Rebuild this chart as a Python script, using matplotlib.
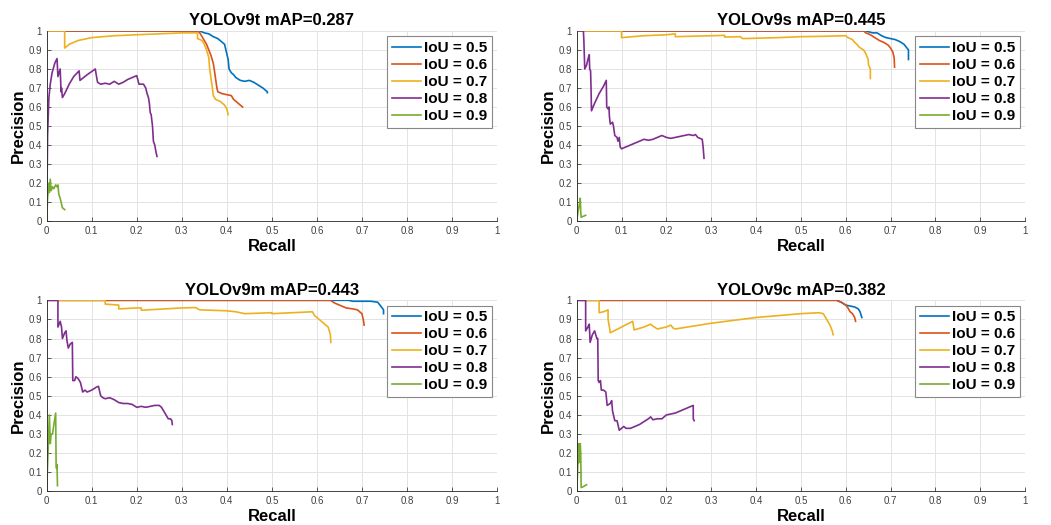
import numpy as np
import matplotlib.pyplot as plt

plt.rcParams['font.family'] = ['Liberation Sans', 'DejaVu Sans']

titles = ['YOLOv9t mAP=0.287', 'YOLOv9s mAP=0.445', 'YOLOv9m mAP=0.443', 'YOLOv9c mAP=0.382']
iou_labels = ['IoU = 0.5', 'IoU = 0.6', 'IoU = 0.7', 'IoU = 0.8', 'IoU = 0.9']
colors = ['#0072BD', '#D95319', '#EDB120', '#7E2F8E', '#77AC30']

# (recall, precision) points per model, one list per IoU threshold
v9t_05 = [(0, 1), (0.34, 1), (0.345, 0.995), (0.35, 0.99), (0.36, 0.985), (0.37, 0.97), (0.38, 0.96),
          (0.385, 0.95), (0.395, 0.93), (0.398, 0.9), (0.40, 0.88), (0.403, 0.85), (0.405, 0.8),
          (0.41, 0.78), (0.415, 0.77), (0.42, 0.755), (0.43, 0.74), (0.44, 0.735), (0.45, 0.74),
          (0.46, 0.73), (0.47, 0.715), (0.48, 0.7), (0.485, 0.69), (0.49, 0.68), (0.49, 0.675)]
v9t_06 = [(0, 1), (0.335, 1), (0.34, 0.99), (0.345, 0.97), (0.35, 0.95), (0.355, 0.93), (0.36, 0.9),
          (0.365, 0.87), (0.37, 0.83), (0.372, 0.8), (0.375, 0.75), (0.378, 0.7), (0.38, 0.68),
          (0.39, 0.67), (0.40, 0.665), (0.41, 0.66), (0.415, 0.64), (0.425, 0.62), (0.435, 0.6)]
v9t_07 = [(0, 1), (0.04, 1), (0.04, 0.91), (0.05, 0.93), (0.07, 0.95), (0.1, 0.965), (0.15, 0.975),
          (0.2, 0.98), (0.25, 0.985), (0.3, 0.99), (0.335, 0.99), (0.335, 0.96), (0.345, 0.95),
          (0.35, 0.93), (0.355, 0.9), (0.36, 0.86), (0.362, 0.8), (0.365, 0.75), (0.368, 0.7),
          (0.37, 0.66), (0.375, 0.64), (0.385, 0.63), (0.395, 0.61), (0.40, 0.59), (0.403, 0.56)]
v9t_08 = [(0, 0), (0.002, 0.45), (0.005, 0.65), (0.008, 0.72), (0.012, 0.78), (0.018, 0.83),
          (0.023, 0.855), (0.025, 0.76), (0.03, 0.8), (0.032, 0.68), (0.033, 0.7), (0.035, 0.65),
          (0.04, 0.67), (0.05, 0.72), (0.06, 0.76), (0.072, 0.79), (0.074, 0.74), (0.09, 0.77),
          (0.108, 0.8), (0.11, 0.77), (0.113, 0.73), (0.12, 0.72), (0.13, 0.725), (0.14, 0.72),
          (0.15, 0.735), (0.16, 0.72), (0.17, 0.73), (0.18, 0.745), (0.2, 0.765), (0.205, 0.72),
          (0.215, 0.72), (0.22, 0.7), (0.223, 0.67), (0.226, 0.65), (0.228, 0.62), (0.23, 0.57),
          (0.232, 0.56), (0.235, 0.5), (0.237, 0.42), (0.24, 0.4), (0.243, 0.36), (0.245, 0.34)]
v9t_09 = [(0, 1), (0, 0), (0.002, 0.12), (0.005, 0.2), (0.006, 0.15), (0.008, 0.22), (0.01, 0.16),
          (0.013, 0.18), (0.016, 0.17), (0.02, 0.19), (0.023, 0.18), (0.025, 0.19), (0.027, 0.14),
          (0.03, 0.12), (0.032, 0.1), (0.035, 0.07), (0.04, 0.06)]

v9s_05 = [(0, 1), (0.645, 1), (0.66, 0.99), (0.67, 0.99), (0.68, 0.975), (0.69, 0.965), (0.70, 0.96),
          (0.71, 0.955), (0.72, 0.945), (0.73, 0.93), (0.735, 0.915), (0.74, 0.9), (0.74, 0.85)]
v9s_06 = [(0, 1), (0.64, 1), (0.645, 0.99), (0.655, 0.98), (0.665, 0.965), (0.675, 0.95),
          (0.685, 0.94), (0.695, 0.925), (0.70, 0.91), (0.705, 0.89), (0.708, 0.86), (0.709, 0.81)]
v9s_07 = [(0, 1), (0.1, 1), (0.1, 0.965), (0.15, 0.975), (0.2, 0.98), (0.22, 0.985), (0.22, 0.97),
          (0.3, 0.975), (0.33, 0.977), (0.33, 0.968), (0.365, 0.97), (0.37, 0.96), (0.45, 0.965),
          (0.5, 0.97), (0.55, 0.972), (0.6, 0.975), (0.605, 0.965), (0.615, 0.955), (0.62, 0.94),
          (0.625, 0.93), (0.63, 0.915), (0.64, 0.9), (0.645, 0.88), (0.65, 0.85), (0.651, 0.82),
          (0.655, 0.8), (0.655, 0.75)]
v9s_08 = [(0, 1), (0.015, 1), (0.016, 0.95), (0.018, 0.8), (0.022, 0.82), (0.025, 0.85),
          (0.028, 0.875), (0.029, 0.8), (0.031, 0.79), (0.032, 0.7), (0.033, 0.58), (0.04, 0.62),
          (0.05, 0.67), (0.06, 0.71), (0.066, 0.74), (0.067, 0.6), (0.07, 0.59), (0.072, 0.6),
          (0.073, 0.55), (0.075, 0.51), (0.08, 0.52), (0.082, 0.5), (0.085, 0.45), (0.09, 0.44),
          (0.092, 0.42), (0.095, 0.44), (0.097, 0.39), (0.1, 0.38), (0.11, 0.39), (0.12, 0.4),
          (0.13, 0.41), (0.14, 0.42), (0.15, 0.43), (0.16, 0.425), (0.17, 0.43), (0.18, 0.44),
          (0.19, 0.45), (0.2, 0.44), (0.21, 0.435), (0.22, 0.44), (0.23, 0.445), (0.24, 0.45),
          (0.25, 0.455), (0.26, 0.45), (0.265, 0.455), (0.27, 0.44), (0.28, 0.43), (0.282, 0.39),
          (0.284, 0.33)]
v9s_09 = [(0, 1), (0, 0), (0.003, 0.05), (0.007, 0.1), (0.008, 0.12), (0.009, 0.05), (0.01, 0.02),
          (0.015, 0.025), (0.02, 0.03)]

v9m_05 = [(0, 1), (0.67, 1), (0.68, 0.995), (0.72, 0.995), (0.735, 0.99), (0.74, 0.975),
          (0.745, 0.96), (0.748, 0.95), (0.748, 0.93)]
v9m_06 = [(0, 1), (0.63, 1), (0.64, 0.985), (0.655, 0.97), (0.665, 0.96), (0.68, 0.955),
          (0.69, 0.95), (0.70, 0.93), (0.703, 0.9), (0.705, 0.87)]
v9m_07 = [(0, 1), (0.13, 1), (0.13, 0.98), (0.16, 0.975), (0.16, 0.955), (0.2, 0.96), (0.21, 0.96),
          (0.21, 0.948), (0.3, 0.96), (0.33, 0.962), (0.34, 0.95), (0.4, 0.945), (0.42, 0.94),
          (0.44, 0.93), (0.5, 0.935), (0.5, 0.93), (0.59, 0.94), (0.595, 0.92), (0.605, 0.9),
          (0.615, 0.88), (0.625, 0.86), (0.63, 0.82), (0.631, 0.78)]
v9m_08 = [(0, 1), (0.025, 1), (0.025, 0.86), (0.03, 0.89), (0.033, 0.86), (0.035, 0.8), (0.04, 0.83),
          (0.043, 0.84), (0.045, 0.79), (0.048, 0.75), (0.052, 0.77), (0.057, 0.78), (0.058, 0.58),
          (0.062, 0.58), (0.065, 0.6), (0.07, 0.59), (0.075, 0.57), (0.08, 0.52), (0.085, 0.53),
          (0.09, 0.52), (0.1, 0.53), (0.11, 0.545), (0.115, 0.55), (0.12, 0.5), (0.125, 0.49),
          (0.13, 0.485), (0.14, 0.49), (0.15, 0.48), (0.16, 0.465), (0.17, 0.46), (0.18, 0.46),
          (0.19, 0.455), (0.2, 0.44), (0.21, 0.445), (0.22, 0.44), (0.23, 0.445), (0.24, 0.45),
          (0.25, 0.45), (0.255, 0.44), (0.26, 0.42), (0.265, 0.4), (0.27, 0.38), (0.275, 0.38),
          (0.278, 0.37), (0.279, 0.35)]
v9m_09 = [(0, 1), (0, 0), (0.003, 0.2), (0.006, 0.4), (0.008, 0.25), (0.01, 0.3), (0.013, 0.3),
          (0.016, 0.35), (0.02, 0.41), (0.021, 0.13), (0.022, 0.12), (0.023, 0.14), (0.024, 0.03)]

v9c_05 = [(0, 1), (0.58, 1), (0.59, 0.99), (0.6, 0.975), (0.61, 0.97), (0.62, 0.965),
          (0.628, 0.955), (0.632, 0.94), (0.636, 0.91)]
v9c_06 = [(0, 1), (0.58, 1), (0.59, 0.99), (0.6, 0.975), (0.605, 0.96), (0.61, 0.94),
          (0.615, 0.93), (0.62, 0.91), (0.622, 0.89)]
v9c_07 = [(0, 1), (0.05, 1), (0.05, 0.935), (0.06, 0.94), (0.07, 0.95), (0.07, 0.9), (0.073, 0.86),
          (0.075, 0.83), (0.1, 0.86), (0.125, 0.89), (0.128, 0.845), (0.15, 0.86), (0.165, 0.875),
          (0.17, 0.865), (0.18, 0.85), (0.2, 0.86), (0.21, 0.87), (0.215, 0.855), (0.22, 0.85),
          (0.3, 0.88), (0.4, 0.91), (0.5, 0.93), (0.54, 0.935), (0.55, 0.93), (0.555, 0.91),
          (0.56, 0.89), (0.565, 0.87), (0.57, 0.84), (0.572, 0.82)]
v9c_08 = [(0, 1), (0.02, 1), (0.02, 0.84), (0.025, 0.86), (0.028, 0.875), (0.03, 0.78), (0.035, 0.82),
          (0.04, 0.84), (0.045, 0.8), (0.047, 0.8), (0.048, 0.58), (0.05, 0.57), (0.053, 0.58),
          (0.055, 0.53), (0.06, 0.53), (0.065, 0.52), (0.068, 0.45), (0.075, 0.46), (0.078, 0.475),
          (0.08, 0.42), (0.085, 0.37), (0.09, 0.37), (0.095, 0.32), (0.1, 0.33), (0.105, 0.34),
          (0.11, 0.33), (0.12, 0.33), (0.13, 0.34), (0.14, 0.35), (0.15, 0.365), (0.16, 0.38),
          (0.165, 0.39), (0.17, 0.375), (0.18, 0.38), (0.19, 0.38), (0.2, 0.4), (0.22, 0.41),
          (0.24, 0.43), (0.26, 0.45), (0.26, 0.38), (0.262, 0.37)]
v9c_09 = [(0, 1), (0, 0), (0.002, 0.1), (0.004, 0.25), (0.005, 0.15), (0.006, 0.22), (0.008, 0.25),
          (0.009, 0.2), (0.01, 0.02), (0.015, 0.025), (0.022, 0.035)]

curves = [
    [v9t_05, v9t_06, v9t_07, v9t_08, v9t_09],
    [v9s_05, v9s_06, v9s_07, v9s_08, v9s_09],
    [v9m_05, v9m_06, v9m_07, v9m_08, v9m_09],
    [v9c_05, v9c_06, v9c_07, v9c_08, v9c_09],
]

# axes rectangles [left, bottom, width, height] in figure fractions
positions = [
    [0.0444, 0.579, 0.4285, 0.362],
    [0.5487, 0.579, 0.4266, 0.362],
    [0.0444, 0.064, 0.4285, 0.364],
    [0.5487, 0.064, 0.4266, 0.364],
]

fig = plt.figure(figsize=(10.51, 5.25), dpi=100)

for title, series, pos in zip(titles, curves, positions):
    ax = fig.add_axes(pos)
    for pts, lab, col in zip(series, iou_labels, colors):
        arr = np.array(pts)
        ax.plot(arr[:, 0], arr[:, 1], color=col, lw=1.2, label=lab)
    ax.set_xlim(0, 1)
    ax.set_ylim(0, 1)
    ticks = np.round(np.arange(0, 1.01, 0.1), 1)
    ax.set_xticks(ticks)
    ax.set_yticks(ticks)
    ax.set_xticklabels(['%g' % t for t in ticks])
    ax.set_yticklabels(['%g' % t for t in ticks])
    ax.tick_params(labelsize=7, colors='#404040', direction='in', length=3, width=0.6)
    ax.grid(True, color='#e3e3e3', lw=0.7)
    ax.set_axisbelow(True)
    for side in ['top', 'right']:
        ax.spines[side].set_visible(False)
    for side in ['bottom', 'left']:
        ax.spines[side].set_color('#262626')
        ax.spines[side].set_linewidth(0.6)
    ax.set_title(title, fontsize=12, fontweight='bold', pad=4)
    ax.set_xlabel('Recall', fontsize=12, fontweight='bold', labelpad=2)
    ax.set_ylabel('Precision', fontsize=12, fontweight='bold', labelpad=2)
    leg = ax.legend(loc='upper right', fontsize=11, prop={'weight': 'bold', 'size': 11},
                    handlelength=1.9, handletextpad=0.2, labelspacing=0.2,
                    borderpad=0.3, borderaxespad=0.35, fancybox=False, framealpha=1)
    leg.get_frame().set_edgecolor('#888888')
    leg.get_frame().set_linewidth(0.8)

fig.savefig('out.png', dpi=100)
